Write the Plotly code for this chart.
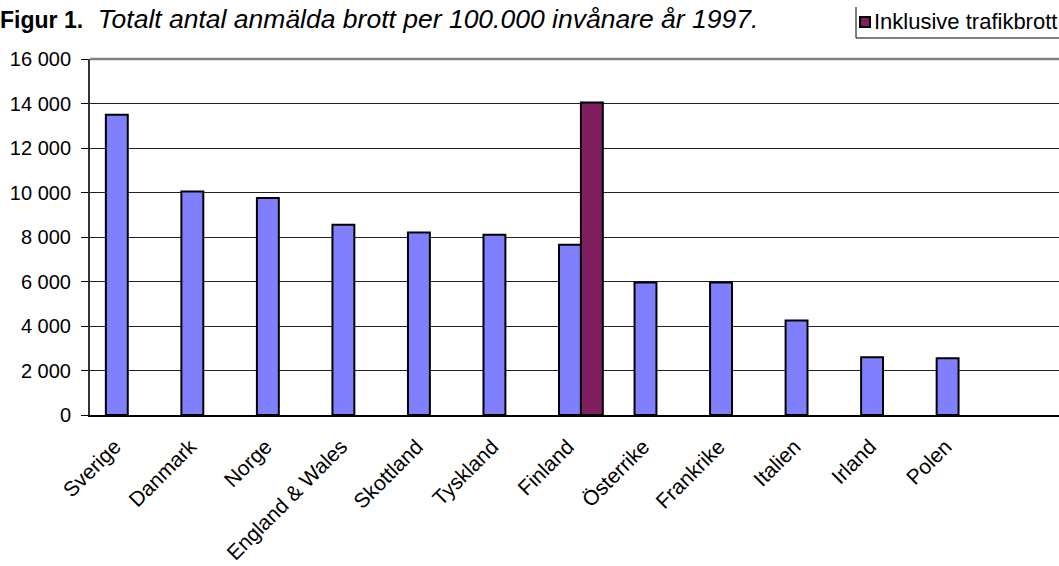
import plotly.graph_objects as go

countries = ["Sverige", "Danmark", "Norge", "England & Wales", "Skottland", "Tyskland",
             "Finland", "Österrike", "Frankrike", "Italien", "Irland", "Polen"]
brott = [13500, 10050, 9750, 8550, 8200, 8100, 7650, 5950, 5950, 4250, 2600, 2550]
inkl_trafik = [None, None, None, None, None, None, 14050, None, None, None, None, None]
legend_label = "Inklusive trafikbrott"

FONT = "Liberation Sans, Arial, sans-serif"
BLUE = "#8080FF"
PURPLE = "#7F1F5F"

W, H = 1059, 566
L, R, T, B = 90, 0, 59, 151
PW, PH = W - L - R, H - T - B


def px(xp):
    return (xp - L) / PW


def py(yp):
    return (H - B - yp) / PH


fig = go.Figure()
fig.add_trace(go.Bar(
    x=countries, y=brott, name="Anmälda brott", showlegend=False,
    marker=dict(color=BLUE, line=dict(color="black", width=2)),
))
fig.add_trace(go.Bar(
    x=countries, y=inkl_trafik, name=legend_label, showlegend=False,
    marker=dict(color=PURPLE, line=dict(color="black", width=2)),
))

fig.update_layout(
    width=W, height=H,
    barmode="group", bargap=0.42, bargroupgap=0,
    plot_bgcolor="white", paper_bgcolor="white",
    separators=", ",
    showlegend=False,
    font=dict(family=FONT, size=20, color="black"),
    margin=dict(l=L, r=R, t=T, b=B, autoexpand=False),
    title=dict(
        text="<span style='font-size:23px'><b>Figur 1.</b></span>  "
             "<i>Totalt antal anmälda brott per 100.000 invånare år 1997.</i>",
        xref="container", x=0.0, xanchor="left",
        yref="container", y=1 - 19 / H, yanchor="middle",
        font=dict(family=FONT, size=26.5, color="black"),
        pad=dict(l=0, r=0, t=0, b=0),
    ),
    xaxis=dict(
        range=[-0.5, 12.33], showline=True, linecolor="black", linewidth=2,
        tickangle=-45, ticks="", showgrid=False,
        tickfont=dict(family=FONT, size=21, color="black"),
        ticklabelshift=-13, ticklabelstandoff=9,
    ),
    yaxis=dict(
        range=[0, 16000], dtick=2000, tickformat=",d",
        showline=True, linecolor="#333333", linewidth=2,
        ticks="outside", ticklen=7, tickcolor="black", tickwidth=1,
        showgrid=True, gridcolor="#222222", gridwidth=1,
        tickfont=dict(family=FONT, size=20, color="black"),
        zeroline=False, ticklabelstandoff=6,
    ),
)
# plot-area top border
fig.add_shape(type="line", xref="paper", yref="paper", x0=0, x1=1, y0=1, y1=1,
              line=dict(color="#808080", width=2.5))
# legend box (clipped at right edge as in the original)
fig.add_shape(type="line", xref="paper", yref="paper", x0=px(856), x1=px(856),
              y0=py(7), y1=py(38), line=dict(color="black", width=1))
fig.add_shape(type="line", xref="paper", yref="paper", x0=px(856), x1=px(1059),
              y0=py(38), y1=py(38), line=dict(color="black", width=1))
fig.add_shape(type="rect", xref="paper", yref="paper", x0=px(860), x1=px(870),
              y0=py(27), y1=py(17), fillcolor=PURPLE, line=dict(color="black", width=2))
fig.add_annotation(text=legend_label, xref="paper", yref="paper", x=px(872), y=py(22),
                   xanchor="left", yanchor="middle", showarrow=False,
                   font=dict(family=FONT, size=22, color="black"))

fig.write_html("out.html", config={"displayModeBar": False},
               post_script="document.body.style.margin='0';")
